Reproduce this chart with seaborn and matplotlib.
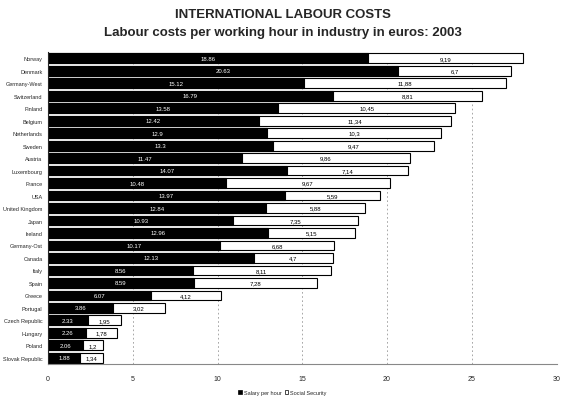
# Labour costs per working hour, stacked horizontal bars
import pandas as pd
import matplotlib.pyplot as plt
import seaborn as sns
from matplotlib.patches import Patch

countries = ['Norway', 'Denmark', 'Germany-West', 'Switzerland', 'Finland', 'Belgium',
             'Netherlands', 'Sweden', 'Austria', 'Luxembourg', 'France', 'USA',
             'United Kingdom', 'Japan', 'Ireland', 'Germany-Ost', 'Canada', 'Italy',
             'Spain', 'Greece', 'Portugal', 'Czech Republic', 'Hungary', 'Poland',
             'Slovak Republic']
salary = [18.86, 20.63, 15.12, 16.79, 13.58, 12.42, 12.9, 13.3, 11.47, 14.07, 10.48, 13.97,
          12.84, 10.93, 12.96, 10.17, 12.13, 8.56, 8.59, 6.07, 3.86, 2.33, 2.26, 2.06, 1.88]
social = [9.19, 6.7, 11.88, 8.81, 10.45, 11.34, 10.3, 9.47, 9.86, 7.14, 9.67, 5.59,
          5.88, 7.35, 5.15, 6.68, 4.7, 8.11, 7.28, 4.12, 3.02, 1.95, 1.78, 1.2, 1.34]

df = pd.DataFrame({'Country': countries, 'Salary': salary, 'Social': social})
df['Total'] = df['Salary'] + df['Social']

sns.set_style('white')
plt.rcParams['font.family'] = ['Liberation Sans', 'DejaVu Sans']

fig, ax = plt.subplots(figsize=(5.65, 4.02), dpi=100)
fig.subplots_adjust(left=0.085, right=0.985, top=0.868, bottom=0.092)

# white total bar first, black salary bar on top
sns.barplot(data=df, y='Country', x='Total', color='white', edgecolor='black',
            linewidth=0.8, width=0.78, ax=ax, orient='h')
sns.barplot(data=df, y='Country', x='Salary', color='black', edgecolor='black',
            linewidth=0.8, width=0.78, ax=ax, orient='h')

for i, row in df.iterrows():
    ax.text(row['Salary'] / 2, i, f"{row['Salary']:g}", color='white',
            ha='center', va='center', fontsize=4.3)
    ax.text(row['Salary'] + row['Social'] / 2, i, f"{row['Social']:g}".replace('.', ','),
            color='black', ha='center', va='center', fontsize=4.3)

ax.set_xlim(0, 30)
ax.set_xticks([0, 5, 10, 15, 20, 25, 30])
ax.set_xlabel('')
ax.set_ylabel('')
ax.tick_params(axis='x', labelsize=5, length=0, pad=8)
ax.tick_params(axis='y', labelsize=4, length=2, pad=2)
ax.xaxis.grid(True, linestyle=(0, (2, 3)), color='#999999', linewidth=0.6)
ax.set_axisbelow(True)
for s in ['top', 'right']:
    ax.spines[s].set_visible(False)
ax.spines['left'].set_linewidth(0.8)
ax.spines['bottom'].set_color('#888888')

fig.text(0.5, 0.962, 'INTERNATIONAL LABOUR COSTS', ha='center', va='center',
         fontsize=9.5, fontweight='bold')
fig.text(0.5, 0.917, 'Labour costs per working hour in industry in euros: 2003',
         ha='center', va='center', fontsize=9.5, fontweight='bold')

handles = [Patch(facecolor='black', edgecolor='black', linewidth=0.5),
           Patch(facecolor='white', edgecolor='black', linewidth=0.5)]
fig.legend(handles, ['Salary per hour', 'Social Security'], loc='center',
           bbox_to_anchor=(0.5, 0.022), ncol=2, frameon=False, fontsize=4,
           handlelength=0.7, handleheight=0.7, columnspacing=0.5, handletextpad=0.3)

plt.savefig('out.png', dpi=100)
